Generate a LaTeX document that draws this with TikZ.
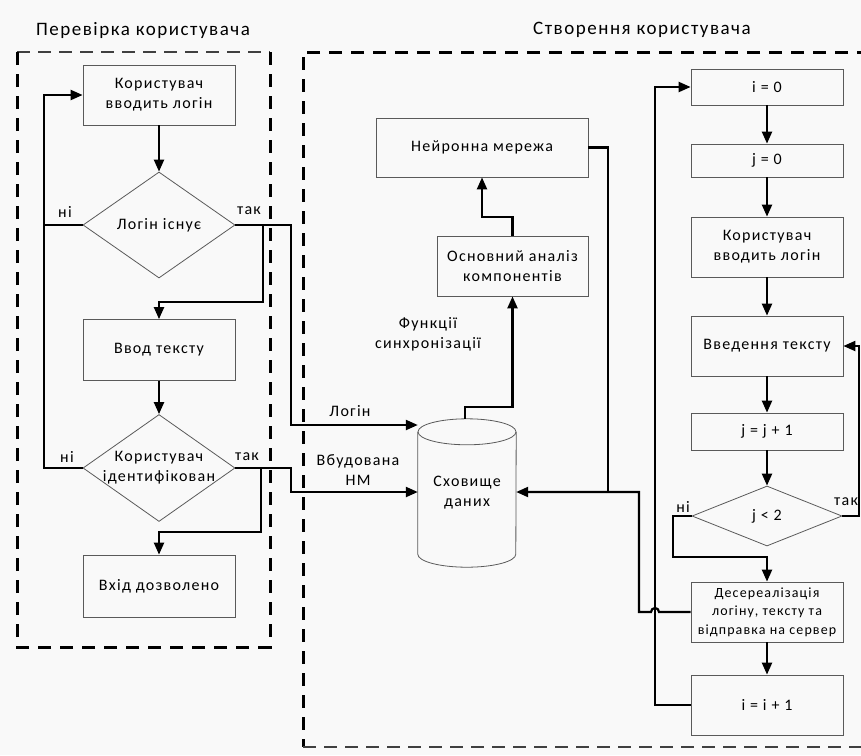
\documentclass[tikz,border=0pt]{standalone}
\usepackage{fontspec}
\setmainfont{Carlito}[LetterSpace=8]
\usetikzlibrary{arrows.meta,shapes.geometric,calc}
\definecolor{bg}{HTML}{F9F9F9}
\definecolor{bord}{HTML}{5A5A5A}
\begin{document}
\begin{tikzpicture}[x=1pt,y=-1pt,
  every node/.style={font=\fontsize{16}{20}\selectfont},
  box/.style={draw=bord, line width=0.8pt, rectangle, minimum width=152pt, align=center, inner sep=2pt},
  dia/.style={draw=bord, line width=0.8pt, diamond, minimum width=152pt, minimum height=106pt, inner sep=0pt},
  wire/.style={line width=2.2pt, black},
  arr/.style={wire, -{Triangle[length=12pt,width=10pt]}},
  lbl/.style={align=center, inner sep=0pt},
  thickdash/.style={line width=3pt, dash pattern=on 13pt off 9pt},
  thindash/.style={line width=1.2pt, black!75, dash pattern=on 13pt off 8pt},
  ttl/.style={font=\fontsize{19}{22}\selectfont},
]
\fill[bg] (0,0) rectangle (861,755);
\useasboundingbox (0,0) rectangle (861,755);

% frames
\draw[thindash] (17,52) -- (270,52);
\draw[thickdash] (270,52) -- (270,647) -- (17,647) -- (17,52);
\draw[thickdash] (870,52) -- (303,52) -- (303,747);
\draw[thindash] (303,747) -- (870,747);

\node[ttl] (t1) at (143,30) {Перевірка користувача};
\node[ttl] (t2) at (642,30) {Створення користувача};

% left column
\node[box, minimum height=60pt] (b1) at (159,95) {Користувач\\вводить логін};
\node[dia] (d1) at (159,225) {};
\node[lbl] (d1t) at (d1) {Логін існує};
\node[box, minimum height=61pt] (b2) at (159,350) {Ввод тексту};
\node[dia, minimum height=107pt] (d2) at (159,468) {};
\node[lbl] (d2t) at (d2) {Користувач\\ідентифікован};
\node[box, minimum height=62pt] (b3) at (159,586) {Вхід дозволено};

% middle
\node[box, minimum width=212pt, minimum height=59pt] (nn) at (482,147.5) {Нейронна мережа};
\node[box, minimum width=151pt, minimum height=60pt] (pca) at (512.5,266) {Основний аналіз\\компонентів};
\node[minimum width=98pt, minimum height=148pt, inner sep=0pt, align=center] (db) at (467,493) {Сховище\\даних};
\draw[draw=bord, line width=0.8pt] ($(db.north west)+(0,13)$) -- ($(db.south west)+(0,-13)$) arc[start angle=180, end angle=0, x radius=49, y radius=13] -- ($(db.north east)+(0,13)$);
\draw[draw=bord, line width=0.8pt] ($(db.north)+(0,13)$) ellipse[x radius=49, y radius=13];

% right column
\node[box, minimum height=36pt] (r1) at (767,87) {i = 0};
\node[box, minimum height=33pt] (r2) at (767,160.5) {j = 0};
\node[box, minimum height=60pt] (r3) at (767,247) {Користувач\\вводить логін};
\node[box, minimum height=60pt] (r4) at (767,346) {Введення тексту};
\node[box, minimum height=37pt] (r5) at (767,431.5) {j = j + 1};
\node[dia, minimum width=150pt, minimum height=60pt] (d3) at (767,516) {};
\node[lbl] (d3t) at (d3) {j < 2};
\node[box, minimum height=60pt, font=\fontsize{14}{18.5}\selectfont] (r6) at (767,612) {Десереалізація\\логіну, тексту та\\відправка на сервер};
\node[box, minimum height=60pt] (r7) at (767,705) {i = i + 1};

% labels
\node[lbl] (l1) at (65,212) {ні};
\node[lbl] (l2) at (249,211) {так};
\node[lbl] (l3) at (67,457) {ні};
\node[lbl] (l4) at (247,457) {так};
\node[lbl] (l5) at (683,507) {ні};
\node[lbl] (l6) at (846,502) {так};
\node[lbl] (l7) at (350,411) {Логін};
\node[lbl] (l8) at (358,470) {Вбудована\\НМ};
\node[lbl] (l9) at (428,334) {Функції\\синхронізації};

% helper coordinates
\coordinate (xL) at (44,0);
\coordinate (xT1) at (291,0);
\coordinate (xT2) at (263,0);
\coordinate (xT3) at (261,0);
\coordinate (yB1) at (0,302);
\coordinate (yB2) at (0,532);
\coordinate (yLog) at (0,425);
\coordinate (yDB) at (0,492);
\coordinate (yP) at (0,407);
\coordinate (yN) at (0,217);
\coordinate (xN) at (608,0);
\coordinate (xD) at (639,0);
\coordinate (xI) at (655,0);
\coordinate (xR) at (859,0);
\coordinate (xNo) at (673,0);
\coordinate (yNo) at (0,557);
\coordinate (dbtop) at (465,419);

% connectors left
\draw[arr] (b1) -- (d1);
\draw[wire] (d1.west) -- (d1.west -| xL);
\draw[arr] (d2.west) -- (d2.west -| xL) -- (xL |- b1.west) -- (b1.west);
\draw[arr] (d1.east) -- (d1.east -| xT1) -- (xT1 |- yLog) -- (db.west |- yLog);
\draw[arr] (d1.east -| xT2) -- (xT2 |- yB1) -- (b2.north |- yB1) -- (b2.north);
\draw[arr] (b2) -- (d2);
\draw[arr] (d2.east) -- (d2.east -| xT1) -- (xT1 |- yDB) -- (db.west |- yDB);
\draw[arr] (d2.east -| xT3) -- (xT3 |- yB2) -- (b3.north |- yB2) -- (b3.north);

% connectors middle
\draw[arr] (dbtop) -- (dbtop |- yP) -- (pca.south |- yP) -- (pca.south);
\draw[arr] (pca.north) -- (pca.north |- yN) -- (nn.south |- yN) -- (nn.south);
\draw[wire] (nn.east) -- (nn.east -| xN) -- (xN |- yDB);
\draw[arr] (r6.west) -- ($(xI |- r6.west)+(4,0)$) arc[start angle=0, end angle=-180, radius=4] -- (xD |- r6.west) -- (xD |- yDB) -- (db.east |- yDB);

% connectors right
\draw[arr] (r7.west) -- (xI |- r7.west) -- (xI |- r1.west) -- (r1.west);
\draw[arr] (r1) -- (r2);
\draw[arr] (r2) -- (r3);
\draw[arr] (r3) -- (r4);
\draw[arr] (r4) -- (r5);
\draw[arr] (r5) -- (d3);
\draw[arr] (r6) -- (r7);
\draw[arr] (d3.east) -- (d3.east -| xR) -- (xR |- r4.east) -- (r4.east);
\draw[arr] (d3.west) -- (d3.west -| xNo) -- (xNo |- yNo) -- (r6.north |- yNo) -- (r6.north);
\end{tikzpicture}
\end{document}
